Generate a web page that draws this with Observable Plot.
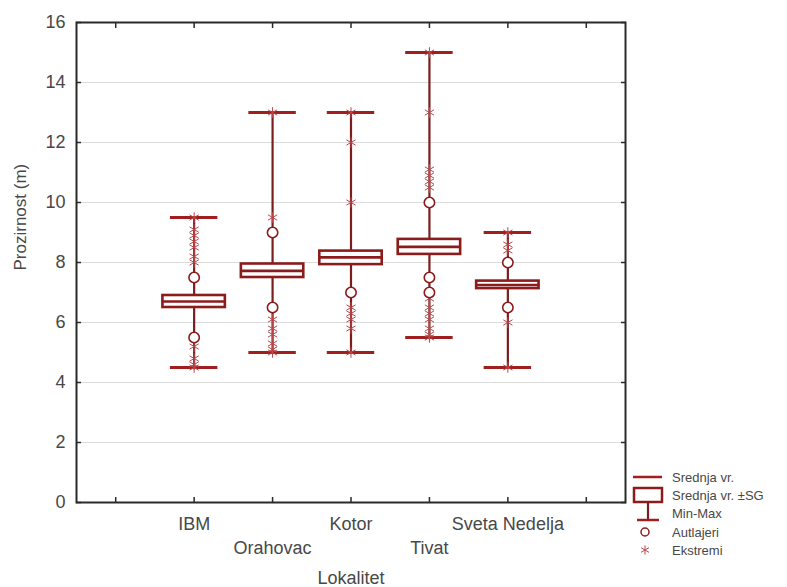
<!DOCTYPE html>
<html><head><meta charset="utf-8">
<script src="https://cdn.jsdelivr.net/npm/d3@7"></script>
<script src="https://cdn.jsdelivr.net/npm/@observablehq/plot@0.6"></script>
<style>
body{margin:0;background:#fff;font-family:"Liberation Sans",Arial,sans-serif}
#wrap{position:relative;width:787px;height:587px}
#legend{position:absolute;left:0;top:0;pointer-events:none}
</style>
</head><body><div id="wrap"></div>
<script>
// ---- data ----
const categories = ["IBM", "Orahovac", "Kotor", "Tivat", "Sveta Nedelja"];
const means  = [6.70, 7.72, 8.17, 8.52, 7.25];
const sdLow  = [6.50, 7.50, 7.93, 8.27, 7.13];
const sdHigh = [6.90, 7.95, 8.38, 8.77, 7.38];
const mins   = [4.5, 5.0, 5.0, 5.5, 4.5];
const maxs   = [9.5, 13.0, 13.0, 15.0, 9.0];
const outlierValues = [
  [7.5, 5.5],
  [9.0, 6.5],
  [7.0],
  [10.0, 7.5, 7.0],
  [8.0, 6.5]
];
const extremeValues = [
  [9.5, 9.1, 8.9, 8.7, 8.5, 8.2, 8.0, 5.2, 4.8, 4.6, 4.5],
  [13.0, 9.5, 6.1, 5.8, 5.6, 5.3, 5.1, 5.0],
  [13.0, 12.0, 10.0, 6.5, 6.3, 6.1, 5.8, 5.0],
  [15.0, 13.0, 11.1, 10.9, 10.7, 10.5, 6.8, 6.5, 6.3, 6.1, 5.8, 5.6, 5.5],
  [9.0, 8.6, 8.4, 6.0, 4.5]
];
const yTicks = [0, 2, 4, 6, 8, 10, 12, 14, 16];
const xSlots = [0, 1, 2, 3, 4, 5, 6]; // empty slot at each end
const legendLabels = ["Srednja vr.", "Srednja vr. \u00b1SG", "Min-Max", "Autlajeri", "Ekstremi"];
const xTitle = "Lokalitet";
const yTitle = "Prozirnost (m)";

// ---- tables ----
const boxes = categories.map((name, i) => ({
  name, x: i + 1, row: i % 2,
  mean: means[i], lo: sdLow[i], hi: sdHigh[i], min: mins[i], max: maxs[i]
}));
const outliers = outlierValues.flatMap((vals, i) => vals.map(v => ({x: i + 1, y: v})));
const extremes = extremeValues.flatMap((vals, i) => vals.map(v => ({x: i + 1, y: v})));

const red = "#8c1c1c";
const stemRed = "#7a1d1d";
const capRed = "#a01e1e";
const starRed = "#b8484c";
const textCol = "#484848";

const chart = Plot.plot({
  width: 787, height: 587,
  marginTop: 22, marginBottom: 85, marginLeft: 76, marginRight: 162,
  style: {fontFamily: '"Liberation Sans", Arial, sans-serif', color: textCol, background: "white"},
  x: {type: "linear", domain: [-0.5, 6.5], label: null},
  y: {domain: [0, 16], label: null},
  marks: [
    Plot.ruleY(yTicks.slice(1, -1), {stroke: "#dcdcdc", strokeWidth: 1}),
    Plot.ruleX(boxes, {x: "x", y1: "min", y2: "max", stroke: stemRed, strokeWidth: 2.2}),
    Plot.ruleY(boxes, {y: "max", x1: d => d.x - 0.5, x2: d => d.x + 0.5, insetLeft: 15.5, insetRight: 15.5, stroke: capRed, strokeWidth: 3}),
    Plot.ruleY(boxes, {y: "min", x1: d => d.x - 0.5, x2: d => d.x + 0.5, insetLeft: 15.5, insetRight: 15.5, stroke: capRed, strokeWidth: 3}),
    Plot.dot(extremes, {x: "x", y: "y", symbol: "asterisk", r: 5, stroke: starRed, strokeWidth: 1}),
    Plot.dot(outliers, {x: "x", y: "y", r: 5.2, fill: "white", stroke: red, strokeWidth: 1.6}),
    Plot.rect(boxes, {x1: d => d.x - 0.5, x2: d => d.x + 0.5, y1: "lo", y2: "hi", insetLeft: 8, insetRight: 8, fill: "white", stroke: red, strokeWidth: 2.6}),
    Plot.ruleY(boxes, {y: "mean", x1: d => d.x - 0.5, x2: d => d.x + 0.5, insetLeft: 8, insetRight: 8, stroke: red, strokeWidth: 2.6}),
    Plot.frame({stroke: "#2a2a2a", strokeWidth: 2}),
    Plot.axisY(yTicks, {anchor: "left", tickSize: 0, tickPadding: 11, fontSize: 18, label: null}),
    Plot.axisY(yTicks, {anchor: "left", tickSize: -5, tickFormat: () => "", label: null, stroke: "#2a2a2a", strokeWidth: 1.5}),
    Plot.axisY(yTicks, {anchor: "right", tickSize: -5, tickFormat: () => "", label: null, stroke: "#2a2a2a", strokeWidth: 1.5}),
    Plot.axisX(xSlots, {anchor: "bottom", tickSize: -5, tickFormat: () => "", label: null, stroke: "#2a2a2a", strokeWidth: 1.5}),
    Plot.axisX(xSlots, {anchor: "top", tickSize: -5, tickFormat: () => "", label: null, stroke: "#2a2a2a", strokeWidth: 1.5}),
    Plot.text(boxes, {filter: d => d.row === 0, x: "x", text: "name", frameAnchor: "bottom", dy: 22, fontSize: 18, lineAnchor: "middle", fill: textCol}),
    Plot.text(boxes, {filter: d => d.row === 1, x: "x", text: "name", frameAnchor: "bottom", dy: 46, fontSize: 18, lineAnchor: "middle", fill: textCol}),
    Plot.text([xTitle], {frameAnchor: "bottom", dy: 76, fontSize: 18, lineAnchor: "middle", fill: textCol}),
    Plot.text([yTitle], {frameAnchor: "left", dx: -56, dy: 8, rotate: -90, fontSize: 17, lineAnchor: "middle", fill: textCol})
  ]
});
document.getElementById("wrap").appendChild(chart);

// ---- legend ----
const svg = d3.select("#wrap").append("svg").attr("id", "legend").attr("width", 787).attr("height", 587);
const rowsY = [477, 495, 513, 532, 550];
const g = svg.append("g");
g.append("line").attr("x1", 633).attr("x2", 662).attr("y1", rowsY[0]).attr("y2", rowsY[0]).attr("stroke", capRed).attr("stroke-width", 2.5);
g.append("line").attr("x1", 648).attr("x2", 648).attr("y1", 502).attr("y2", 520).attr("stroke", stemRed).attr("stroke-width", 2.2);
g.append("rect").attr("x", 634).attr("y", 488).attr("width", 28).attr("height", 14).attr("fill", "white").attr("stroke", red).attr("stroke-width", 2.5);
g.append("line").attr("x1", 637).attr("x2", 659).attr("y1", 520).attr("y2", 520).attr("stroke", capRed).attr("stroke-width", 2.5);
g.append("circle").attr("cx", 645).attr("cy", rowsY[3]).attr("r", 4).attr("fill", "white").attr("stroke", red).attr("stroke-width", 1.5);
const sym = d3.symbol(d3.symbolAsterisk, 60)();
g.append("path").attr("d", sym).attr("transform", `translate(645,${rowsY[4]})`).attr("fill", "none").attr("stroke", starRed).attr("stroke-width", 1);
g.selectAll("text.lg").data(legendLabels).join("text").attr("class", "lg")
  .attr("x", 672).attr("y", (d, i) => rowsY[i]).attr("dy", "0.35em")
  .attr("font-size", 13).attr("font-family", '"Liberation Sans", Arial, sans-serif').attr("fill", textCol)
  .text(d => d);
</script>
</body></html>
